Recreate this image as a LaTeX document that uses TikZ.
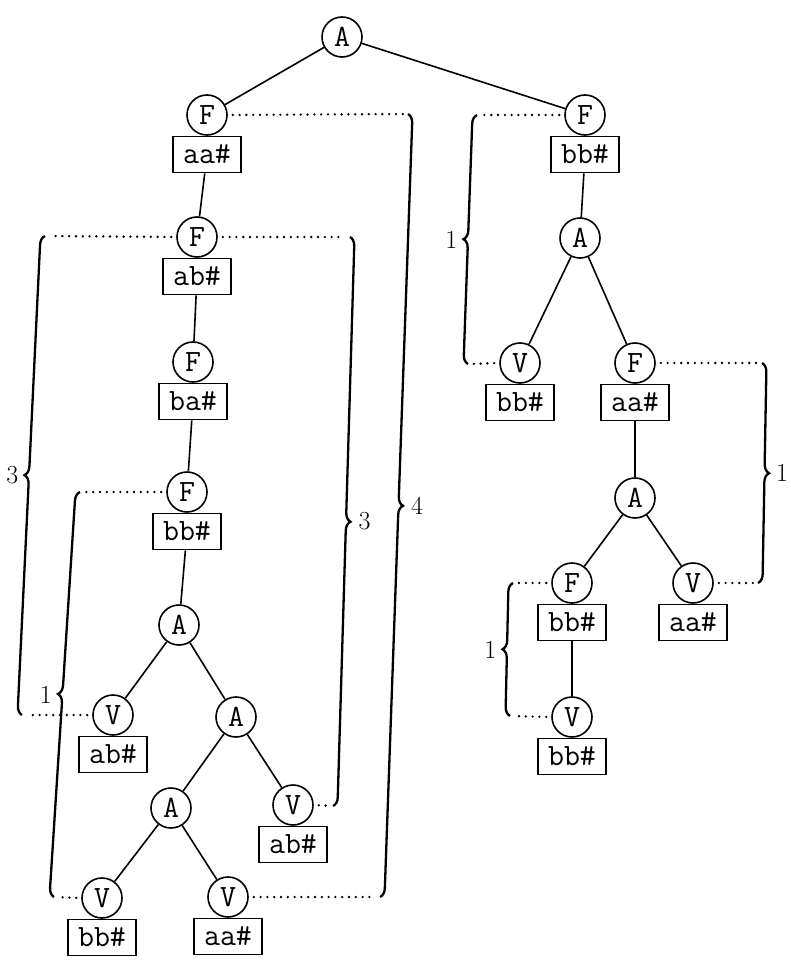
\documentclass[tikz,border=0pt]{standalone}
\usepackage{fontspec}
\usetikzlibrary{decorations.pathreplacing}
\begin{document}
\begin{tikzpicture}[x=1pt,y=-1pt,
  op/.style={circle,draw,line width=1.6pt,minimum size=40pt,inner sep=0pt,
    font=\fontsize{31}{36}\selectfont\ttfamily},
  lab/.style={rectangle,draw,line width=1.6pt,minimum width=68pt,minimum height=36pt,
    inner sep=0pt,anchor=north,font=\fontsize{31}{36}\selectfont\ttfamily},
  edge/.style={line width=1.6pt},
  dots/.style={line width=2.6pt,line cap=round,dash pattern=on 0pt off 6.8pt,
    shorten <=5pt,shorten >=5pt},
  brc/.style={decorate,decoration={brace,amplitude=9pt},line width=2.3pt},
  cnt/.style={font=\fontsize{26}{30}\selectfont\rmfamily,inner sep=0pt}]
\useasboundingbox (0,0) rectangle (790,963);

% root
\node[op] (r) at (342,37) {A};

% left subtree
\node[op] (f1) at (207,115) {F};
\node[lab] (lf1) at (f1.south) {aa\#};
\node[op] (f2) at (197,237) {F};
\node[lab] (lf2) at (f2.south) {ab\#};
\node[op] (f3) at (193,362) {F};
\node[lab] (lf3) at (f3.south) {ba\#};
\node[op] (f4) at (187,492) {F};
\node[lab] (lf4) at (f4.south) {bb\#};
\node[op] (a1) at (179,625) {A};
\node[op] (v1) at (113,715) {V};
\node[lab] (lv1) at (v1.south) {ab\#};
\node[op] (a2) at (236,717) {A};
\node[op] (a3) at (171,808) {A};
\node[op] (v2) at (293,805) {V};
\node[lab] (lv2) at (v2.south) {ab\#};
\node[op] (v3) at (102,898) {V};
\node[lab] (lv3) at (v3.south) {bb\#};
\node[op] (v4) at (228,897) {V};
\node[lab] (lv4) at (v4.south) {aa\#};

% right subtree
\node[op] (g1) at (585,115) {F};
\node[lab] (lg1) at (g1.south) {bb\#};
\node[op] (b1) at (580,238) {A};
\node[op] (w1) at (520,363) {V};
\node[lab] (lw1) at (w1.south) {bb\#};
\node[op] (g2) at (635,363) {F};
\node[lab] (lg2) at (g2.south) {aa\#};
\node[op] (b2) at (635,498) {A};
\node[op] (g3) at (572,583) {F};
\node[lab] (lg3) at (g3.south) {bb\#};
\node[op] (w2) at (693,583) {V};
\node[lab] (lw2) at (w2.south) {aa\#};
\node[op] (w3) at (572,717) {V};
\node[lab] (lw3) at (w3.south) {bb\#};

% tree edges
\draw[edge] (r) -- (f1);
\draw[edge] (r) -- (g1);
\draw[edge] (lf1) -- (f2);
\draw[edge] (lf2) -- (f3);
\draw[edge] (lf3) -- (f4);
\draw[edge] (lf4) -- (a1);
\draw[edge] (a1) -- (v1);
\draw[edge] (a1) -- (a2);
\draw[edge] (a2) -- (a3);
\draw[edge] (a2) -- (v2);
\draw[edge] (a3) -- (v3);
\draw[edge] (a3) -- (v4);
\draw[edge] (lg1) -- (b1);
\draw[edge] (b1) -- (w1);
\draw[edge] (b1) -- (g2);
\draw[edge] (lg2) -- (b2);
\draw[edge] (b2) -- (g3);
\draw[edge] (b2) -- (w2);
\draw[edge] (lg3) -- (w3);

% brace end points
\coordinate (p4t) at (408,114);  \coordinate (p4b) at (380,897);
\coordinate (p3rt) at (350,237); \coordinate (p3rb) at (333,806);
\coordinate (p3lt) at (45,236);  \coordinate (p3lb) at (22,715);
\coordinate (p1lt) at (80,492);  \coordinate (p1lb) at (54,897);
\coordinate (q1at) at (477,115); \coordinate (q1ab) at (468,364);
\coordinate (q1bt) at (762,363); \coordinate (q1bb) at (758,583);
\coordinate (q1ct) at (513,583); \coordinate (q1cb) at (510,716);

% dotted leaders
\draw[dots] (f1.east) -- (p4t);
\draw[dots] (v4.east) -- (p4b);
\draw[dots] (f2.east) -- (p3rt);
\draw[dots] (v2.east) -- (p3rb);
\draw[dots] (f2.west) -- (p3lt);
\draw[dots] (v1.west) -- (p3lb);
\draw[dots] (f4.west) -- (p1lt);
\draw[dots] (v3.west) -- (p1lb);
\draw[dots] (g1.west) -- (q1at);
\draw[dots] (w1.west) -- (q1ab);
\draw[dots] (g2.east) -- (q1bt);
\draw[dots] (w2.east) -- (q1bb);
\draw[dots] (g3.west) -- (q1ct);
\draw[dots] (w3.west) -- (q1cb);

% braces with counts
\draw[brc] (p4t) -- node[cnt,midway,right=16pt] (n4) {4} (p4b);
\draw[brc] (p3rt) -- node[cnt,midway,right=16pt] (n3r) {3} (p3rb);
\draw[brc] (p3lb) -- node[cnt,midway,left=14pt] (n3l) {3} (p3lt);
\draw[brc] (p1lb) -- node[cnt,midway,left=14pt] (n1l) {1} (p1lt);
\draw[brc] (q1ab) -- node[cnt,midway,left=14pt] (m1a) {1} (q1at);
\draw[brc] (q1bt) -- node[cnt,midway,right=15pt] (m1b) {1} (q1bb);
\draw[brc] (q1cb) -- node[cnt,midway,left=14pt] (m1c) {1} (q1ct);
\end{tikzpicture}
\end{document}
